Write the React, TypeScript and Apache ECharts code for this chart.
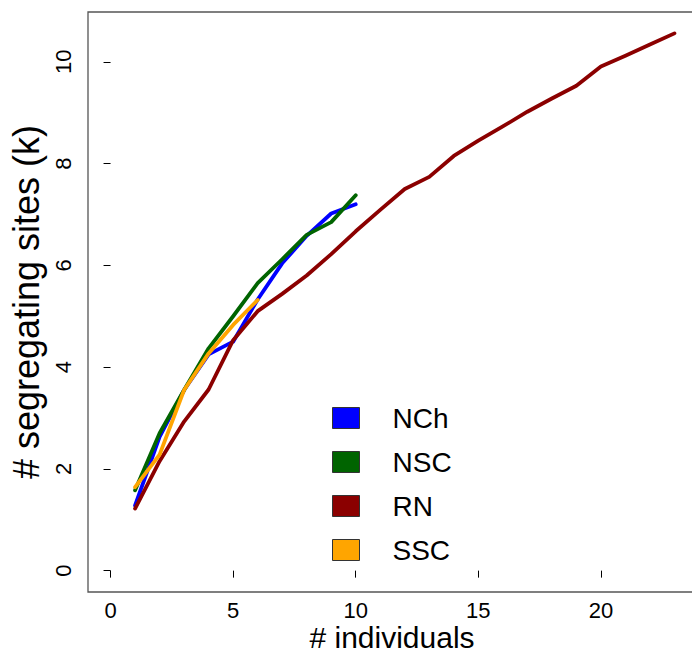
import React, { useEffect, useRef } from "react";
import * as echarts from "echarts";

const seriesNames = ["NCh", "NSC", "RN", "SSC"];
const seriesColors = ["#0000FF", "#006400", "#8B0000", "#FFA500"];

const xNCh = [1, 2, 3, 4, 5, 6, 7, 8, 9, 10];
const yNCh = [1.28, 2.63, 3.55, 4.25, 4.5, 5.33, 6.04, 6.58, 7.02, 7.2];

const xNSC = [1, 2, 3, 4, 5, 6, 7, 8, 9, 10];
const yNSC = [1.58, 2.7, 3.55, 4.37, 5.0, 5.65, 6.12, 6.6, 6.85, 7.38];

const xRN = [1, 2, 3, 4, 5, 6, 7, 8, 9, 10, 11, 12, 13, 14, 15, 16, 17, 18, 19, 20, 21, 22, 23];
const yRN = [1.22, 2.15, 2.93, 3.56, 4.53, 5.1, 5.44, 5.8, 6.22, 6.67, 7.09, 7.5, 7.74, 8.15, 8.45, 8.73, 9.02, 9.28, 9.53, 9.91, 10.12, 10.34, 10.56];

const xSSC = [1, 2, 3, 4, 5, 6];
const ySSC = [1.64, 2.28, 3.55, 4.27, 4.83, 5.32];

const xTicks = [0, 5, 10, 15, 20];
const yTicks = [0, 2, 4, 6, 8, 10];

const xTitle = "# individuals";
const yTitle = "# segregating sites (k)";

const xs = [xNCh, xNSC, xRN, xSSC];
const ys = [yNCh, yNSC, yRN, ySSC];

export default function App() {
  const ref = useRef<HTMLDivElement>(null);
  useEffect(() => {
    if (!ref.current) return;
    const chart = echarts.init(ref.current, undefined, { renderer: "svg" });
    const font = "Liberation Sans, Arial, sans-serif";
    chart.setOption({
      animation: false,
      backgroundColor: "#ffffff",
      textStyle: { fontFamily: font },
      grid: {
        left: 88,
        top: 12,
        width: 609,
        height: 580,
        show: true,
        borderColor: "#555555",
        borderWidth: 1.3,
        backgroundColor: "transparent",
        containLabel: false,
        outerBoundsMode: "none",
      },
      graphic: [
        {
          type: "text",
          x: 392,
          y: 637,
          style: {
            text: xTitle,
            fontSize: 30,
            lineHeight: 28,
            fontFamily: font,
            fill: "#000000",
            align: "center",
            verticalAlign: "middle",
          },
        },
      ],
      legend: {
        orient: "vertical",
        left: 332,
        top: 404,
        padding: 0,
        icon: "rect",
        itemWidth: 27,
        itemHeight: 21,
        itemGap: 16,
        itemStyle: { borderColor: "#333333", borderWidth: 1 },
        textStyle: { fontSize: 28, color: "#000000", fontFamily: font, padding: [0, 0, 0, 28] },
        data: seriesNames,
      },
      xAxis: {
        type: "value",
        min: -0.92,
        max: 23.92,
        splitLine: { show: false },
        axisLine: { show: false },
        axisTick: {
          show: true,
          customValues: xTicks,
          length: 7,
          inside: false,
          lineStyle: { color: "#000000", width: 1 },
        },
        axisLabel: {
          customValues: xTicks,
          fontSize: 22,
          lineHeight: 22,
          color: "#000000",
          margin: 7,
          fontFamily: font,
        },
      },
      yAxis: {
        type: "value",
        min: -0.42,
        max: 10.98,
        splitLine: { show: false },
        axisLine: { show: false },
        axisTick: {
          show: true,
          customValues: yTicks,
          length: 7,
          inside: false,
          lineStyle: { color: "#000000", width: 1 },
        },
        axisLabel: {
          customValues: yTicks,
          fontSize: 22,
          color: "#000000",
          rotate: 90,
          margin: 14,
          fontFamily: font,
        },
        name: yTitle,
        nameLocation: "middle",
        nameGap: 37,
        nameTextStyle: { fontSize: 36, color: "#000000", fontFamily: font },
      },
      series: seriesNames.map((name, i) => ({
        name,
        type: "line",
        data: xs[i].map((x, j) => [x, ys[i][j]]),
        showSymbol: false,
        symbol: "none",
        color: seriesColors[i],
        lineStyle: { color: seriesColors[i], width: 3.8, cap: "round", join: "round" },
        itemStyle: { color: seriesColors[i] },
      })),
    });
    return () => chart.dispose();
  }, []);
  return (
    <div
      ref={ref}
      style={{ position: "absolute", left: 0, top: 0, width: 692, height: 652, background: "#fff" }}
    />
  );
}
